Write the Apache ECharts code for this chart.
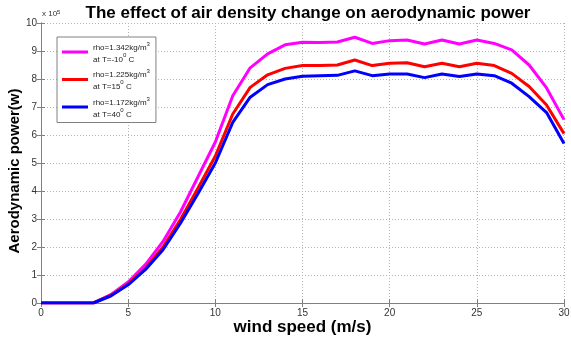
<!DOCTYPE html>
<html>
<head>
<meta charset="utf-8">
<script src="https://cdn.jsdelivr.net/npm/echarts@6/dist/echarts.min.js"></script>
<style>
  html, body { margin: 0; padding: 0; background: #fff; }
  #chart { width: 571px; height: 342px; }
</style>
</head>
<body>
<div id="chart"></div>
<script>
// Wind speed (m/s) sampled every 1 m/s
const windSpeed = [0,1,2,3,4,5,6,7,8,9,10,11,12,13,14,15,16,17,18,19,20,21,22,23,24,25,26,27,28,29,30];

// Aerodynamic power in units of 1e5 W
const powerRho1342 = [0,0,0,0,0.30,0.75,1.38,2.20,3.25,4.50,5.75,7.40,8.40,8.90,9.22,9.31,9.30,9.32,9.49,9.27,9.37,9.39,9.25,9.39,9.25,9.39,9.27,9.04,8.50,7.68,6.55];
const powerRho1225 = [0,0,0,0,0.27,0.68,1.25,2.00,2.98,4.10,5.25,6.75,7.70,8.15,8.38,8.48,8.48,8.50,8.68,8.48,8.56,8.58,8.44,8.56,8.44,8.56,8.48,8.20,7.73,7.07,6.05];
const powerRho1172 = [0,0,0,0,0.25,0.65,1.20,1.90,2.85,3.90,5.00,6.45,7.35,7.80,8.00,8.10,8.12,8.13,8.29,8.12,8.18,8.18,8.05,8.18,8.09,8.18,8.12,7.85,7.37,6.80,5.70];

const seriesNames = ['rho1342', 'rho1225', 'rho1172'];
const legendText = {
  rho1342: ['1.342', '-10'],
  rho1225: ['1.225', '15'],
  rho1172: ['1.172', '40']
};
const xTicks = { min: 0, max: 30, interval: 5 };
const yTicks = { min: 0, max: 10, interval: 1 };

const colors = ['#ff00ff', '#ff0000', '#0000ff'];
const values = [powerRho1342, powerRho1225, powerRho1172];

const chart = echarts.init(document.getElementById('chart'), null, { renderer: 'canvas' });

const gridLine = { show: true, lineStyle: { color: '#b4b4b4', type: [1, 2], width: 1 } };
const axisLine = { show: true, lineStyle: { color: '#808080', width: 1 } };
const tickStyle = { show: true, inside: true, length: 4, lineStyle: { color: '#808080' } };
const tickLabel = { color: '#333', fontSize: 10, fontFamily: 'Liberation Sans, Arial, sans-serif' };

chart.setOption({
  animation: false,
  backgroundColor: '#fff',
  title: {
    text: 'The effect of air density change on aerodynamic power',
    left: 303, top: 0, textAlign: 'center',
    textStyle: { fontFamily: 'Liberation Sans, Arial, sans-serif', fontWeight: 'bold', fontSize: 17, color: '#000' }
  },
  grid: { left: 41, right: 7, top: 23, bottom: 39, containLabel: false, outerBoundsMode: 'none' },
  legend: {
    orient: 'vertical',
    left: 57, top: 37,
    width: 101,
    padding: [4, 6, 4, 5],
    itemGap: 5,
    itemWidth: 26,
    itemHeight: 3,
    icon: 'rect',
    backgroundColor: '#fff',
    borderColor: '#808080',
    borderWidth: 1,
    borderRadius: 0,
    data: seriesNames,
    formatter: function (name) {
      const t = legendText[name];
      return '{a|rho=' + t[0] + 'kg/m}{s|3}\n{b|at T=' + t[1] + '}{s|0}{b| C}';
    },
    textStyle: {
      fontFamily: 'Liberation Sans, Arial, sans-serif',
      color: '#222',
      rich: {
        a: { fontSize: 8, lineHeight: 11, padding: [2, 0, 0, 0] },
        b: { fontSize: 8, lineHeight: 11, padding: [4, 0, 0, 0] },
        s: { fontSize: 6, lineHeight: 11, verticalAlign: 'top', padding: [0, 0, 0, 0] }
      }
    }
  },
  xAxis: [{
    type: 'value',
    min: xTicks.min, max: xTicks.max, interval: xTicks.interval,
    name: 'wind speed (m/s)',
    nameLocation: 'middle',
    nameGap: 16,
    nameMoveOverlap: false,
    nameTextStyle: { fontFamily: 'Liberation Sans, Arial, sans-serif', fontWeight: 'bold', fontSize: 17, color: '#000' },
    axisLine: axisLine,
    axisTick: tickStyle,
    axisLabel: Object.assign({ margin: 5 }, tickLabel),
    splitLine: gridLine
  }, {
    type: 'value', position: 'top',
    min: xTicks.min, max: xTicks.max, interval: xTicks.interval,
    axisLine: axisLine, axisTick: tickStyle,
    axisLabel: { show: false }, splitLine: { show: false }
  }],
  yAxis: [{
    type: 'value',
    min: yTicks.min, max: yTicks.max, interval: yTicks.interval,
    name: 'Aerodynamic power(w)',
    nameLocation: 'middle',
    nameGap: 19,
    nameMoveOverlap: false,
    nameTextStyle: { fontFamily: 'Liberation Sans, Arial, sans-serif', fontWeight: 'bold', fontSize: 15, color: '#000', padding: [0, 16, 0, 0] },
    axisLine: axisLine,
    axisTick: tickStyle,
    axisLabel: Object.assign({ margin: 4 }, tickLabel),
    splitLine: gridLine
  }, {
    type: 'value', position: 'right',
    min: yTicks.min, max: yTicks.max, interval: yTicks.interval,
    axisLine: axisLine, axisTick: tickStyle,
    axisLabel: { show: false }, splitLine: { show: false }
  }],
  graphic: [{
    type: 'text',
    left: 42, top: 9,
    style: {
      text: '{m|x 10}{e|5}',
      rich: {
        m: { fontSize: 8, fontFamily: 'Liberation Sans, Arial, sans-serif', fill: '#333', lineHeight: 10 },
        e: { fontSize: 6, fontFamily: 'Liberation Sans, Arial, sans-serif', fill: '#333', verticalAlign: 'top', lineHeight: 10 }
      }
    }
  }],
  series: seriesNames.map(function (name, i) {
    return {
      name: name,
      type: 'line',
      data: windSpeed.map(function (w, j) { return [w, values[i][j]]; }),
      showSymbol: false,
      symbol: 'none',
      lineStyle: { color: colors[i], width: 3 },
      itemStyle: { color: colors[i] },
      z: 3 + i
    };
  })
});
</script>
</body>
</html>
